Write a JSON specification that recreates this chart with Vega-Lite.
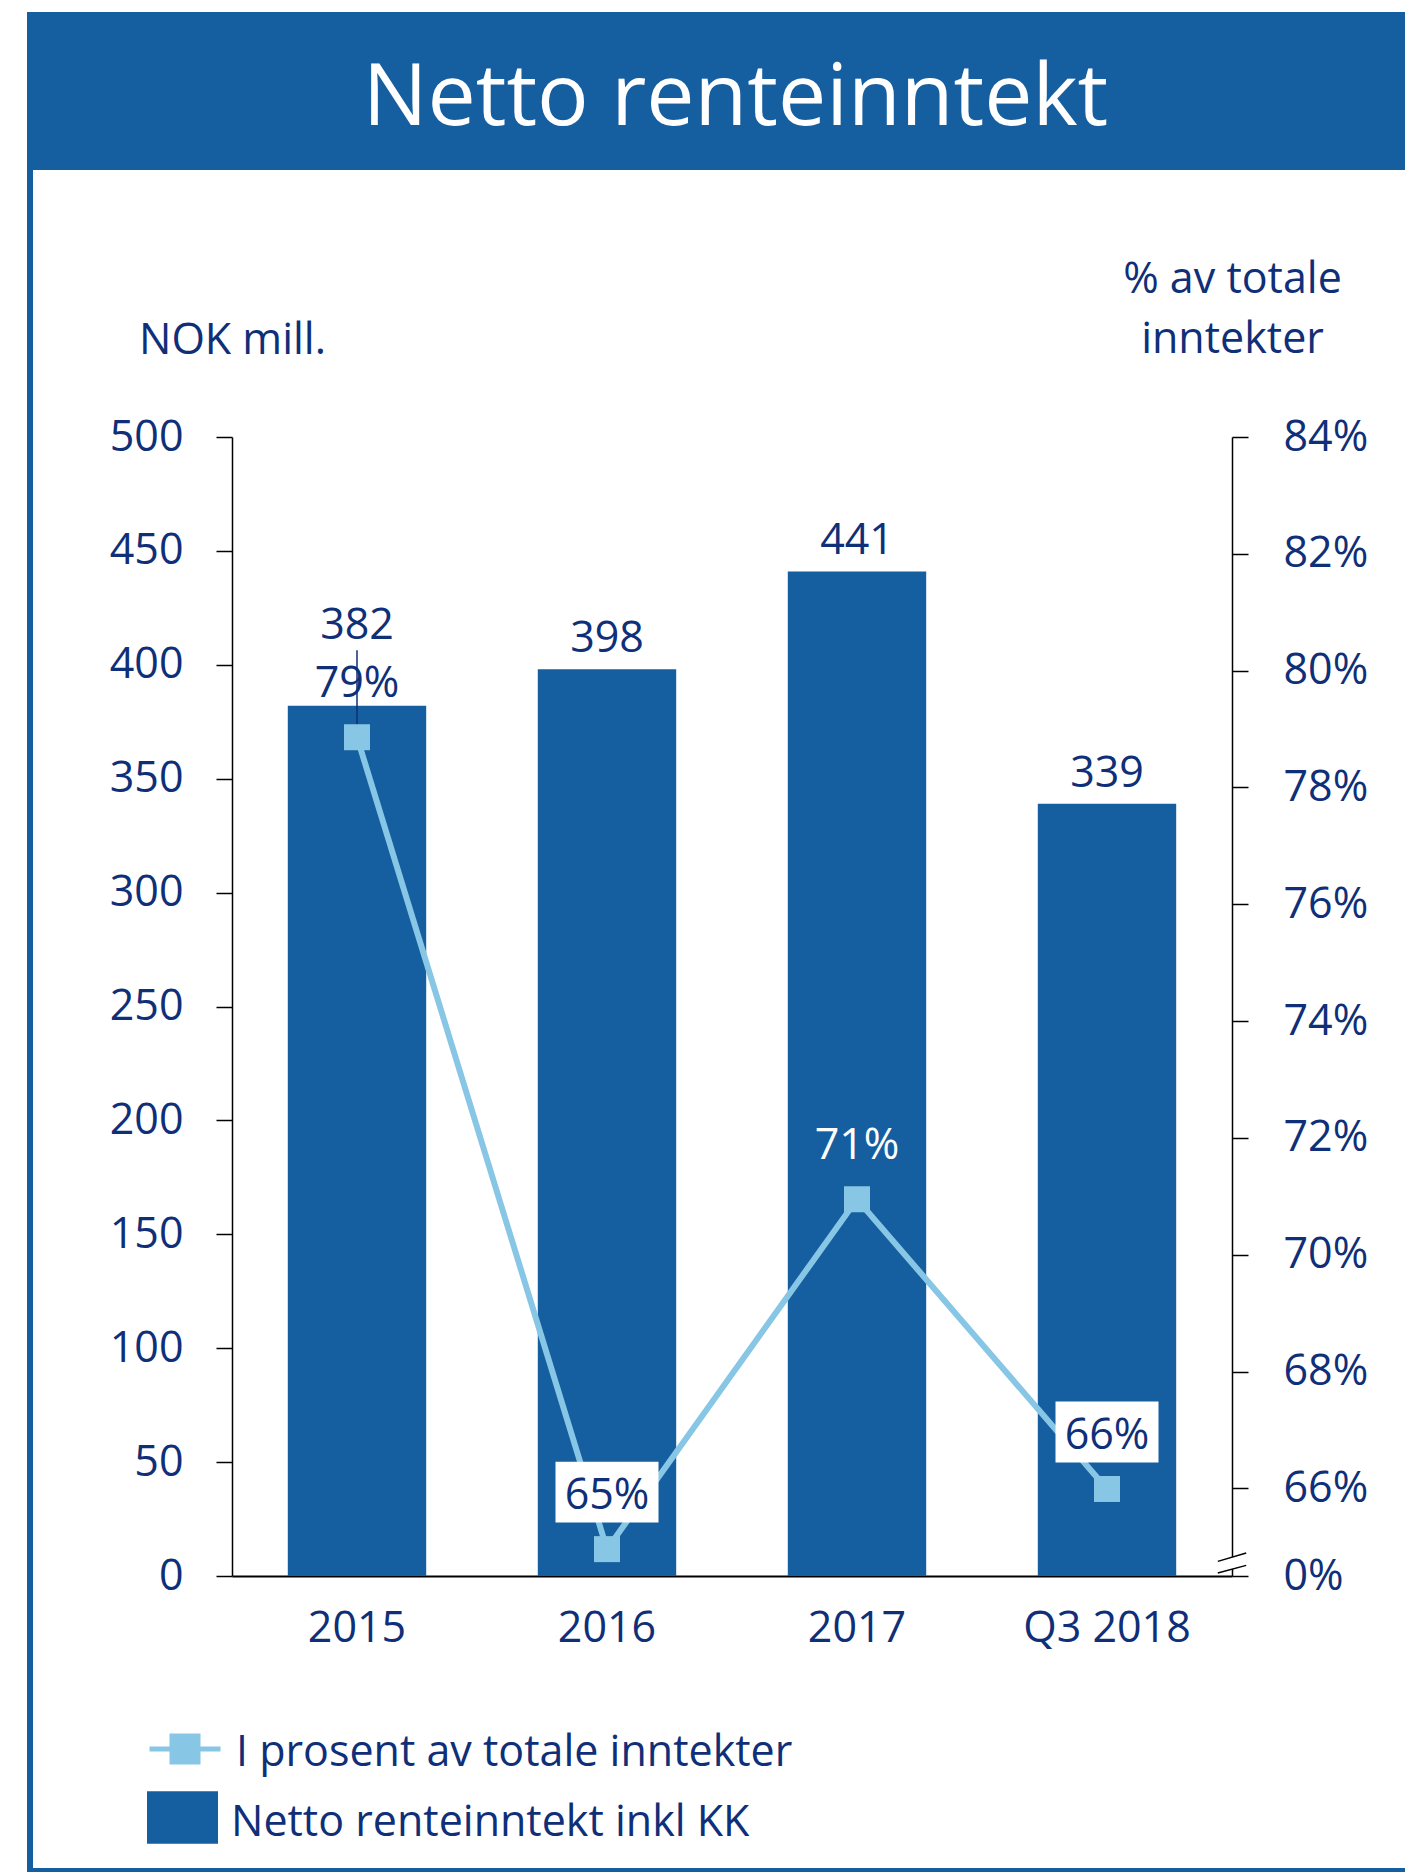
{
  "$schema": "https://vega.github.io/schema/vega-lite/v6.json",
  "padding": {"left": 27, "top": 12, "right": 0, "bottom": 0},
  "background": "white",
  "config": {
    "view": {"stroke": null},
    "font": "Open Sans"
  },
  "datasets": {
    "main": [
      {"year": "2015", "nii": 382, "pct": 0.7886},
      {"year": "2016", "nii": 398, "pct": 0.6496},
      {"year": "2017", "nii": 441, "pct": 0.7095},
      {"year": "Q3 2018", "nii": 339, "pct": 0.6599}
    ],
    "none": [],
    "title": [{"t": "Netto renteinntekt"}]
  },
  "columns": 3,
  "spacing": 0,
  "bounds": "flush",
  "align": "each",
  "concat": [
    {"width": 6, "height": 158, "view": {"fill": "#155FA0", "stroke": null}, "data": {"name": "none"}, "mark": "point"},
    {"width": 199, "height": 158, "view": {"fill": "#155FA0", "stroke": null}, "data": {"name": "none"}, "mark": "point"},
    {"width": 1173, "height": 158, "view": {"fill": "#155FA0", "stroke": null}, "data": {"name": "title"},
     "mark": {"type": "text", "font": "Open Sans", "fontSize": 86, "color": "white", "align": "center", "baseline": "alphabetic", "dx": -83, "dy": 34},
     "encoding": {"text": {"field": "t"}}},

    {"width": 6, "height": 267, "view": {"fill": "#155FA0", "stroke": null}, "data": {"name": "none"}, "mark": "point"},
    {"width": 1, "height": 1, "data": {"name": "none"}, "mark": "point"},
    {"width": 1, "height": 1, "data": {"name": "none"}, "mark": "point"},

    {"width": 6, "height": 1139, "view": {"fill": "#155FA0", "stroke": null}, "data": {"name": "none"}, "mark": "point"},
    {"width": 1, "height": 1, "data": {"name": "none"}, "mark": "point"},
    {
      "width": 1000,
      "height": 1139,
      "data": {"name": "main"},
      "encoding": {
        "x": {
          "field": "year", "type": "nominal", "sort": null,
          "scale": {"paddingInner": 0.4464, "paddingOuter": 0.2232},
          "axis": {
            "title": null, "ticks": false, "domainColor": "#000000", "domainWidth": 2,
            "labelAngle": 0, "labelFont": "Open Sans", "labelFontSize": 43, "labelColor": "#0F2F78",
            "labelPadding": 65, "labelBaseline": "alphabetic"
          }
        }
      },
      "layer": [
        {
          "layer": [
            {
              "mark": {"type": "bar"},
              "encoding": {
                "y": {
                  "field": "nii", "type": "quantitative",
                  "scale": {"domain": [0, 500], "nice": false},
                  "axis": {
                    "orient": "left", "values": [0, 50, 100, 150, 200, 250, 300, 350, 400, 450, 500],
                    "grid": false, "domainColor": "#000000", "domainWidth": 1.5,
                    "tickColor": "#000000", "tickWidth": 1.5, "tickSize": 16,
                    "labelFont": "Open Sans", "labelFontSize": 43, "labelColor": "#0F2F78", "labelPadding": 33,
                    "title": "NOK mill.", "titleFont": "Open Sans", "titleFontSize": 43, "titleColor": "#0F2F78",
                    "titleFontWeight": "normal", "titleAngle": 0, "titleX": 0, "titleY": -84,
                    "titleAlign": "center", "titleBaseline": "alphabetic"
                  }
                },
                "fill": {
                  "datum": "Netto renteinntekt inkl KK", "type": "nominal",
                  "scale": {"range": ["#155FA0"]},
                  "legend": {
                    "orient": "none", "legendX": 120, "legendY": 1770, "title": null, "padding": 0,
                    "symbolType": "M-1,-0.74L1,-0.74L1,0.74L-1,0.74Z", "symbolSize": 5041,
                    "symbolStrokeWidth": 0, "symbolFillColor": "#155FA0",
                    "labelFont": "Open Sans", "labelFontSize": 43, "labelColor": "#0F2F78",
                    "labelOffset": 13, "labelLimit": 1000,
                    "encode": {"labels": {"update": {"dy": {"value": 5}}}}
                  }
                }
              }
            },
            {
              "transform": [{"filter": "datum.year == '2015'"}],
              "mark": {"type": "text", "font": "Open Sans", "fontSize": 43, "color": "#0F2F78", "baseline": "alphabetic", "dy": -67},
              "encoding": {"y": {"field": "nii", "type": "quantitative"}, "text": {"field": "nii"}}
            },
            {
              "transform": [{"filter": "datum.year != '2015'"}],
              "mark": {"type": "text", "font": "Open Sans", "fontSize": 43, "color": "#0F2F78", "baseline": "alphabetic", "dy": -17},
              "encoding": {"y": {"field": "nii", "type": "quantitative"}, "text": {"field": "nii"}}
            }
          ]
        },
        {
          "layer": [
            {
              "mark": {"type": "line", "strokeWidth": 6},
              "encoding": {
                "y": {
                  "field": "pct", "type": "quantitative",
                  "scale": {"domain": [0.645, 0.84], "nice": false, "zero": false},
                  "axis": {
                    "orient": "right", "values": [0.645, 0.66, 0.68, 0.70, 0.72, 0.74, 0.76, 0.78, 0.80, 0.82, 0.84],
                    "format": ".0%", "labelExpr": "datum.value < 0.65 ? '0%' : datum.label",
                    "grid": false, "domainColor": "#000000", "domainWidth": 1.5,
                    "tickColor": "#000000", "tickWidth": 1.5, "tickSize": 16,
                    "labelFont": "Open Sans", "labelFontSize": 43, "labelColor": "#0F2F78", "labelPadding": 35,
                    "title": ["% av totale", "inntekter"], "titleFont": "Open Sans", "titleFontSize": 43, "titleColor": "#0F2F78",
                    "titleFontWeight": "normal", "titleAngle": 0, "titleX": 0, "titleY": -145,
                    "titleAlign": "center", "titleBaseline": "alphabetic", "titleLineHeight": 60
                  }
                },
                "stroke": {
                  "datum": "I prosent av totale inntekter", "type": "nominal",
                  "scale": {"range": ["#88C6E5"]},
                  "legend": {
                    "orient": "none", "legendX": 120, "legendY": 1699, "title": null, "padding": 0,
                    "symbolType": "M-1,0L1,0M-0.366,-0.366L0.366,-0.366L0.366,0.366L-0.366,0.366Z", "symbolSize": 5041,
                    "symbolStrokeWidth": 5, "symbolStrokeColor": "#88C6E5", "symbolFillColor": "#88C6E5",
                    "labelFont": "Open Sans", "labelFontSize": 43, "labelColor": "#0F2F78",
                    "labelOffset": 13, "labelLimit": 1000,
                    "encode": {"symbols": {"update": {"fill": {"value": "#88C6E5"}}}, "labels": {"update": {"dy": {"value": 4}}}}
                  }
                }
              }
            },
            {
              "transform": [{"filter": "datum.year == '2016' || datum.year == 'Q3 2018'"}],
              "mark": {"type": "point", "shape": "M-1,-0.592L1,-0.592L1,0.592L-1,0.592Z", "size": 10609, "filled": true, "fill": "white", "opacity": 1, "strokeWidth": 0, "yOffset": -57},
              "encoding": {"y": {"field": "pct", "type": "quantitative"}}
            },
            {
              "mark": {"type": "text", "font": "Open Sans", "fontSize": 43, "baseline": "alphabetic", "dy": -40},
              "encoding": {
                "y": {"field": "pct", "type": "quantitative"},
                "text": {"field": "pct", "format": ".0%"},
                "color": {"condition": {"test": "datum.year == '2017'", "value": "white"}, "value": "#0F2F78"}
              }
            },
            {
              "transform": [{"filter": "datum.year == '2015'"}],
              "mark": {"type": "rule", "color": "#0F2F78", "strokeWidth": 1.5},
              "encoding": {"y": {"field": "pct", "type": "quantitative"}, "y2": {"datum": 0.8035}}
            },
            {
              "mark": {"type": "point", "shape": "square", "size": 676, "filled": true, "color": "#88C6E5", "opacity": 1},
              "encoding": {"y": {"field": "pct", "type": "quantitative"}}
            },
            {
              "transform": [{"filter": "datum.year == 'Q3 2018'"}],
              "mark": {"type": "point", "shape": "M-1,-0.127L1,-0.718L1,0.155L-1,0.69Z", "size": 807, "filled": true, "fill": "white", "opacity": 1, "strokeWidth": 0},
              "encoding": {"x": {"value": "width"}, "y": {"datum": 0.6472}}
            },
            {
              "transform": [{"filter": "datum.year == 'Q3 2018'"}],
              "mark": {"type": "point", "shape": "M-1,-0.127L1,-0.718M-1,0.69L1,0.155", "size": 807, "filled": false, "stroke": "#000000", "strokeWidth": 1.5, "opacity": 1},
              "encoding": {"x": {"value": "width"}, "y": {"datum": 0.6472}}
            }
          ]
        }
      ],
      "resolve": {"scale": {"y": "independent"}}
    },

    {"width": 6, "height": 292, "view": {"fill": "#155FA0", "stroke": null}, "data": {"name": "none"}, "mark": "point"},
    {"width": 1, "height": 1, "data": {"name": "none"}, "mark": "point"},
    {"width": 1, "height": 1, "data": {"name": "none"}, "mark": "point"},

    {"width": 6, "height": 4, "view": {"fill": "#155FA0", "stroke": null}, "data": {"name": "none"}, "mark": "point"},
    {"width": 199, "height": 4, "view": {"fill": "#155FA0", "stroke": null}, "data": {"name": "none"}, "mark": "point"},
    {"width": 1173, "height": 4, "view": {"fill": "#155FA0", "stroke": null}, "data": {"name": "none"}, "mark": "point"}
  ]
}
